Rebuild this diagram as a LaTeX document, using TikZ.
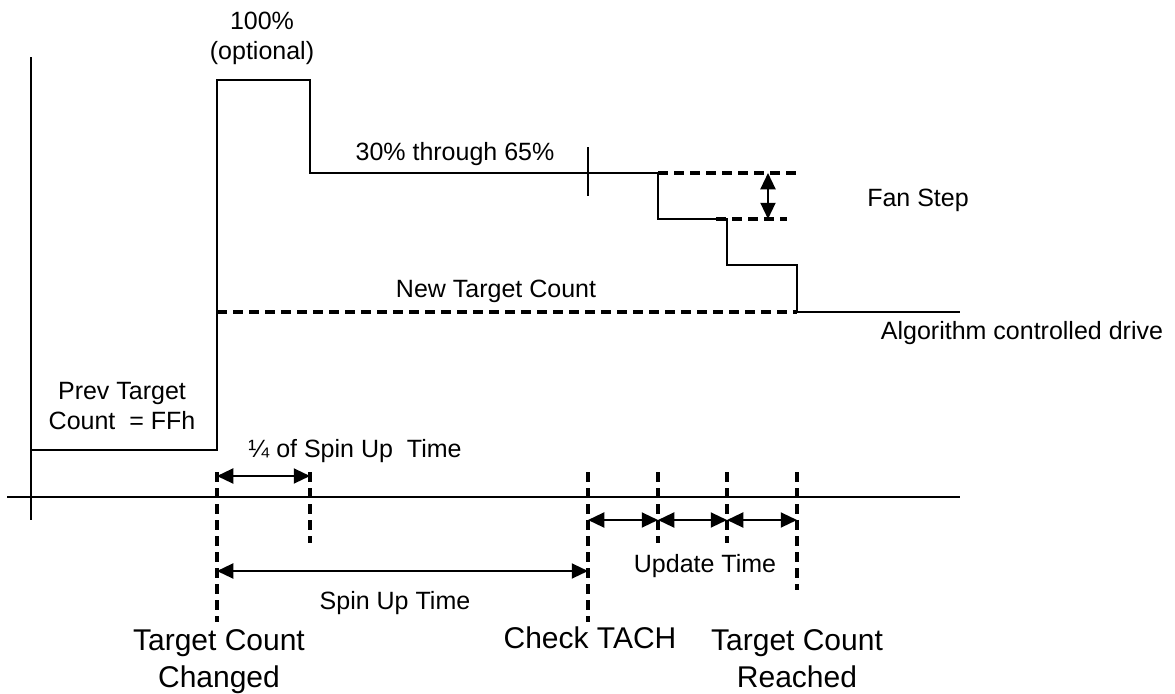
\documentclass[tikz,border=0pt]{standalone}
\usepackage{fontspec}
\setmainfont{Liberation Sans}
\usetikzlibrary{positioning,arrows.meta,calc}

\begin{document}
\begin{tikzpicture}[
  x=0.4pt, y=-0.4pt,
  every node/.style={font=\fontsize{10}{12}\selectfont, inner sep=0pt, align=center},
  big/.style={font=\fontsize{12}{14.6}\selectfont},
  wave/.style={line width=0.8pt},
  guide/.style={line width=1.3pt, dash pattern=on 4pt off 2.4pt},
  dim/.style={line width=0.8pt, {Triangle[length=6.5pt,width=6pt]}-{Triangle[length=6.5pt,width=6pt]}}
]
\useasboundingbox (0,0) rectangle (1175,694);

% Event times (px)
\def\tChg{217}    % target count changed
\def\tQtr{310}    % quarter of spin up
\def\tChk{588}    % check TACH
\def\tUa{658}     % update 1
\def\tUb{727}     % update 2
\def\tUc{797}     % target reached

% Axes
\coordinate (ytop) at (31,57);
\coordinate (ybot) at (31,520);
\coordinate (xl) at (7,497);
\coordinate (xr) at (960,497);
\draw[wave] (ytop) -- (ybot);
\draw[wave] (xl) -- (xr);

% Drive waveform
\coordinate (w0) at (31,450);
\coordinate (wEnd) at (960,312);
\draw[wave] (w0) -- (\tChg,450) -- (\tChg,80) -- (\tQtr,80) -- (\tQtr,173)
  -- (\tUa,173) -- (\tUa,219) -- (\tUb,219) -- (\tUb,265) -- (\tUc,265)
  -- (\tUc,312) -- (wEnd);
\coordinate (tkA) at (\tChk,147);
\coordinate (tkB) at (\tChk,196);
\draw[wave] (tkA) -- (tkB);

% Levels
\coordinate (lvA) at (\tUa,173);
\coordinate (lvB) at (798,173);
\coordinate (lvC) at (716,219);
\coordinate (lvD) at (787,219);
\coordinate (ntA) at (\tChg,312);
\coordinate (ntB) at (\tUc,312);
\draw[guide] (lvA) -- (lvB);
\draw[guide] (lvC) -- (lvD);
\draw[guide] (ntA) -- (ntB);
\draw[dim] (768,173) -- (768,219);

% Time markers
\coordinate (gChg) at (\tChg,472);
\coordinate (gQtr) at (\tQtr,472);
\coordinate (gChk) at (\tChk,472);
\coordinate (gUa) at (\tUa,472);
\coordinate (gUb) at (\tUb,472);
\coordinate (gUc) at (\tUc,472);
\draw[guide] (gChg) -- ++(0,150);
\draw[guide] (gQtr) -- ++(0,71);
\draw[guide] (gChk) -- ++(0,150);
\draw[guide] (gUa) -- ++(0,71);
\draw[guide] (gUb) -- ++(0,71);
\draw[guide] (gUc) -- ++(0,118);

% Durations
\draw[dim] (gChg |- 0,476) -- (gQtr |- 0,476);
\draw[dim] (gChg |- 0,571) -- (gChk |- 0,571);
\draw[dim] (gChk |- 0,520) -- (gUa |- 0,520);
\draw[dim] (gUa |- 0,520) -- (gUb |- 0,520);
\draw[dim] (gUb |- 0,520) -- (gUc |- 0,520);

% Labels (base = last line)
\node[anchor=base] (full) at (262,59) {100\%\\(optional)};
\node[anchor=base] (mid) at (455,160) {30\% through 65\%};
\node[anchor=base] (newtc) at (496,297) {New Target Count};
\node[anchor=base] (fstep) at (918,206) {Fan Step};
\node[anchor=base] (algo) at (1022,339) {Algorithm controlled drive};
\node[anchor=base] (prev) at (122,429) {Prev Target\\Count\ \ = FFh};
\node[anchor=base] (qtr) at (355,457) {¼ of Spin Up\ \ Time};
\node[anchor=base] (spin) at (395,609) {Spin Up Time};
\node[anchor=base] (upd) at (705,572) {Update Time};
\node[big, anchor=base] (chg) at (219,687) {Target Count\\Changed};
\node[big, anchor=base] (chk) at (590,648) {Check TACH};
\node[big, anchor=base] (rch) at (797,687) {Target Count\\Reached};

\end{tikzpicture}
\end{document}
